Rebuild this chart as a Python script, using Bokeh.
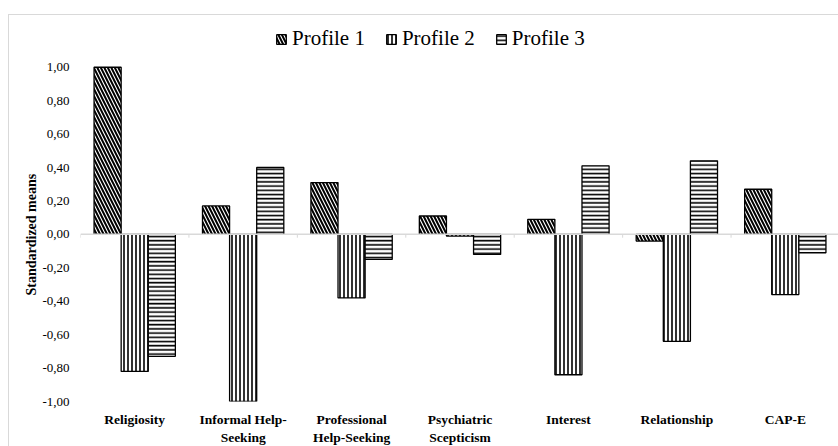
from bokeh.plotting import figure
from bokeh.models import (FactorRange, Legend, LegendItem, Span, FixedTicker,
                          CustomJSTickFormatter, ColumnDataSource, Title)
from bokeh.transform import dodge
from bokeh.embed import file_html
from bokeh.resources import INLINE

categories = ["Religiosity", "Informal Help-\nSeeking", "Professional\nHelp-Seeking",
              "Psychiatric\nScepticism", "Interest", "Relationship", "CAP-E"]
profile1 = [1.00, 0.17, 0.31, 0.11, 0.09, -0.04, 0.27]
profile2 = [-0.82, -1.00, -0.38, -0.01, -0.84, -0.64, -0.36]
profile3 = [-0.73, 0.40, -0.15, -0.12, 0.41, 0.44, -0.11]
series_names = ["Profile 1", "Profile 2", "Profile 3"]
y_ticks = [-1.0, -0.8, -0.6, -0.4, -0.2, 0.0, 0.2, 0.4, 0.6, 0.8, 1.0]
y_label = "Standardized means"

src = ColumnDataSource(dict(cat=categories, p1=profile1, p2=profile2, p3=profile3))

# frame extends above the 1,00 gridline so the legend (inside the frame) is not clipped
xr = FactorRange(factors=categories, range_padding=0, factor_padding=0)
p = figure(width=830, height=432, x_range=xr, y_range=(-1.0, 1.3095),
           output_backend="svg", toolbar_location=None,
           min_border_left=71, min_border_right=0, min_border_top=0,
           min_border_bottom=44, margin=(14, 0, 0, 8),
           styles={"border-top": "1px solid #d9d9d9", "border-left": "1px solid #d9d9d9"})
p.outline_line_color = None
p.background_fill_color = "white"
p.border_fill_color = "white"
p.xgrid.visible = False
p.ygrid.visible = False

serif = "Liberation Serif"

# zero line and category boundary ticks
p.add_layout(Span(location=0, dimension="width", line_color="#d9d9d9", line_width=1.5))
bounds = list(range(len(categories) + 1))
p.segment(x0=bounds, y0=[0] * len(bounds), x1=bounds, y1=[-0.02] * len(bounds),
          line_color="#d9d9d9", line_width=1)

styles = [
    dict(hatch_pattern="left_diagonal_line", hatch_scale=7, hatch_weight=2),
    dict(hatch_pattern="vertical_line", hatch_scale=4, hatch_weight=1.6),
    dict(hatch_pattern="horizontal_line", hatch_scale=4.2, hatch_weight=1.6),
]
cols = ["p1", "p2", "p3"]
offsets = [-0.25, 0.0, 0.25]
renderers = []
for c, off, st in zip(cols, offsets, styles):
    r = p.vbar(x=dodge("cat", off, range=p.x_range), top=c, bottom=0, width=0.25,
               source=src, fill_color="white", hatch_color="black",
               line_color="black", line_width=1.3, **st)
    renderers.append(r)

# axes
p.yaxis.ticker = FixedTicker(ticks=y_ticks)
p.yaxis.formatter = CustomJSTickFormatter(code="return tick.toFixed(2).replace('.', ',');")
p.yaxis.axis_line_color = None
p.yaxis.major_tick_line_color = None
p.yaxis.minor_tick_line_color = None
p.yaxis.major_tick_out = 0
p.yaxis.minor_tick_out = 0
p.yaxis.major_label_text_font = serif
p.yaxis.major_label_text_font_size = "13px"
p.yaxis.major_label_text_color = "black"
p.yaxis.major_label_standoff = 11

# y-axis title (centered on the -1..1 part of the axis)
ytitle = Title(text=y_label, align="left", offset=106, standoff=2,
               text_font=serif, text_font_style="bold", text_font_size="14px",
               text_color="black")
p.add_layout(ytitle, "left")

p.xaxis.axis_line_color = None
p.xaxis.major_tick_line_color = None
p.xaxis.minor_tick_line_color = None
p.xaxis.major_tick_out = 0
p.xaxis.minor_tick_out = 0
p.xaxis.major_label_text_font = serif
p.xaxis.major_label_text_font_style = "bold"
p.xaxis.major_label_text_font_size = "13.5px"
p.xaxis.major_label_text_color = "black"
p.xaxis.major_label_standoff = 10

legend = Legend(items=[LegendItem(label=n, renderers=[r]) for n, r in zip(series_names, renderers)],
                orientation="horizontal", location=(195, 350),
                label_text_font=serif, label_text_font_size="21px",
                label_text_color="black", glyph_width=12, glyph_height=12,
                label_standoff=5, spacing=20, padding=0, margin=0,
                border_line_color=None, background_fill_alpha=0)
p.add_layout(legend, "center")

open("out.html", "w").write(file_html(p, INLINE))
